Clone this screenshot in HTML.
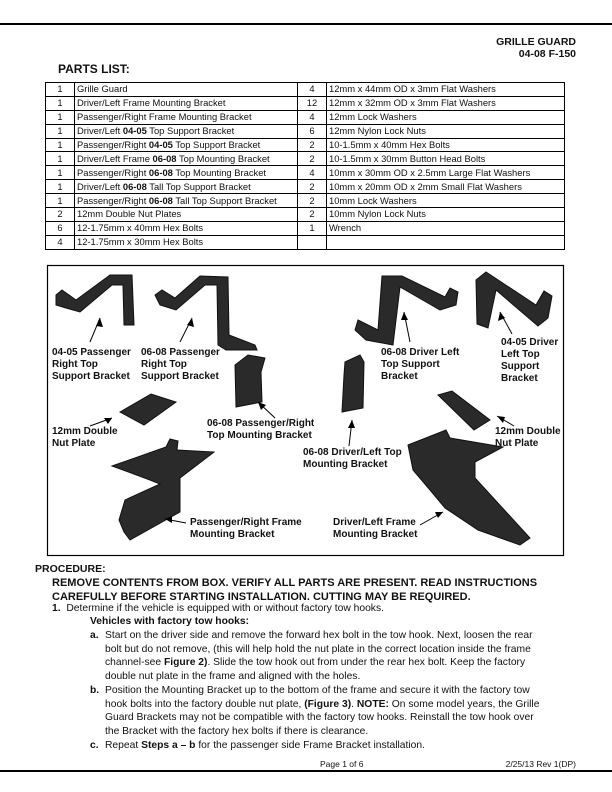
<!DOCTYPE html>
<html><head><meta charset="utf-8"><style>
body{margin:0;width:612px;height:792px;background:#fff;position:relative;font-family:"Liberation Sans",Arial,sans-serif;color:#111;overflow:hidden}
.a{position:absolute;white-space:nowrap}
.b{font-weight:bold}
table{position:absolute;left:45px;top:82px;width:520px;border-collapse:collapse;font-size:9.4px}
td{border:1px solid #000;height:12.9px;padding:0 2px;line-height:12px}
td.q{text-align:center;width:24px}
.lbl{position:absolute;font-weight:bold;font-size:10px;line-height:12px;white-space:nowrap}
.p{font-size:10.3px;line-height:13.6px}
</style></head><body>
<div style="position:absolute;left:0;top:23px;width:612px;height:1.5px;background:#000"></div>
<div class="a b" style="right:36px;top:36px;font-size:10.5px;text-align:right;line-height:12px">GRILLE GUARD<br>04-08 F-150</div>
<div class="a b" style="left:58px;top:62px;font-size:12px">PARTS LIST:</div>
<table>
<tr><td class="q">1</td><td style="width:218px">Grille Guard</td><td class="q">4</td><td>12mm x 44mm OD x 3mm Flat Washers</td></tr>
<tr><td class="q">1</td><td>Driver/Left Frame Mounting Bracket</td><td class="q">12</td><td>12mm x 32mm OD x 3mm Flat Washers</td></tr>
<tr><td class="q">1</td><td>Passenger/Right Frame Mounting Bracket</td><td class="q">4</td><td>12mm Lock Washers</td></tr>
<tr><td class="q">1</td><td>Driver/Left <b>04-05</b> Top Support Bracket</td><td class="q">6</td><td>12mm Nylon Lock Nuts</td></tr>
<tr><td class="q">1</td><td>Passenger/Right <b>04-05</b> Top Support Bracket</td><td class="q">2</td><td>10-1.5mm x 40mm Hex Bolts</td></tr>
<tr><td class="q">1</td><td>Driver/Left Frame <b>06-08</b> Top Mounting Bracket</td><td class="q">2</td><td>10-1.5mm x 30mm Button Head Bolts</td></tr>
<tr><td class="q">1</td><td>Passenger/Right <b>06-08</b> Top Mounting Bracket</td><td class="q">4</td><td>10mm x 30mm OD x 2.5mm Large Flat Washers</td></tr>
<tr><td class="q">1</td><td>Driver/Left <b>06-08</b> Tall Top Support Bracket</td><td class="q">2</td><td>10mm x 20mm OD x 2mm Small Flat Washers</td></tr>
<tr><td class="q">1</td><td>Passenger/Right <b>06-08</b> Tall Top Support Bracket</td><td class="q">2</td><td>10mm Lock Washers</td></tr>
<tr><td class="q">2</td><td>12mm Double Nut Plates</td><td class="q">2</td><td>10mm Nylon Lock Nuts</td></tr>
<tr><td class="q">6</td><td>12-1.75mm x 40mm Hex Bolts</td><td class="q">1</td><td>Wrench</td></tr>
<tr><td class="q">4</td><td>12-1.75mm x 30mm Hex Bolts</td><td class="q"></td><td></td></tr>
</table>

<svg style="position:absolute;left:0;top:0" width="612" height="792">
<rect x="47.5" y="265.5" width="516" height="290" fill="none" stroke="#000" stroke-width="1.2"/>
<g fill="#2a2a2a" stroke="#111" stroke-width="1">
<path d="M56 295 L62 290 L76 300 L110 275 L132 275 L134 325 L124 325 L123 285 L112 285 L80 312 L66 308 L56 305Z"/>
<path d="M155 295 L162 290 L175 298 L200 276 L228 277 L229 335 L255 345 L257 350 L226 350 L218 345 L217 285 L205 285 L176 310 L160 305Z"/>
<path d="M355 330 L358 320 L378 330 L382 276 L402 276 L445 297 L450 288 L458 292 L456 305 L440 310 L400 287 L393 345 L366 340Z"/>
<path d="M476 280 L486 272 L536 305 L544 291 L552 296 L548 318 L538 326 L496 290 L488 328 L477 324Z"/>
<path d="M120 412 L151 394 L176 402 L144 425Z"/>
<path d="M438 395 L452 391 L490 420 L474 430Z"/>
<path d="M235 365 L248 355 L265 358 L261 372 L262 402 L236 407Z"/>
<path d="M345 362 L360 355 L364 362 L363 408 L342 412 L344 375Z"/>
<path d="M112 466 L166 447 L170 439 L178 441 L177 450 L214 452 L180 478 L180 512 L130 540 L124 532 L119 520 L125 500 L160 484 L150 480Z"/>
<path d="M408 445 L446 430 L450 438 L503 447 L475 462 L475 478 L530 538 L520 545 L478 530 L445 508 L430 490 L413 470Z"/>
</g>
<g stroke="#000" stroke-width="1" fill="none">
<line x1="90" y1="342" x2="100" y2="318"/><line x1="180" y1="342" x2="192" y2="318"/>
<line x1="410" y1="342" x2="404" y2="312"/><line x1="512" y1="334" x2="500" y2="312"/>
<line x1="90" y1="426" x2="112" y2="418"/><line x1="275" y1="418" x2="258" y2="402"/>
<line x1="349" y1="446" x2="352" y2="420"/><line x1="514" y1="426" x2="497" y2="416"/>
<line x1="186" y1="523" x2="165" y2="519"/><line x1="420" y1="525" x2="443" y2="512"/>
</g>
<g fill="#000">
<polygon points="112,418 104,418 108,424"/><polygon points="100,318 96,326 103,327"/>
<polygon points="192,318 187,325 194,327"/><polygon points="404,312 401,320 408,320"/>
<polygon points="500,312 498,321 505,318"/><polygon points="258,402 261,410 266,405"/>
<polygon points="352,420 348,428 355,428"/><polygon points="497,416 503,423 505,417"/>
<polygon points="165,519 172,516 172,523"/><polygon points="443,512 435,512 438,518"/>
</g>
</svg>
<div class="lbl" style="left:52px;top:347px">04-05 Passenger<br>Right Top<br>Support Bracket</div>
<div class="lbl" style="left:141px;top:347px">06-08 Passenger<br>Right Top<br>Support Bracket</div>
<div class="lbl" style="left:381px;top:347px">06-08 Driver Left<br>Top Support<br>Bracket</div>
<div class="lbl" style="left:501px;top:337px">04-05 Driver<br>Left Top<br>Support<br>Bracket</div>
<div class="lbl" style="left:52px;top:426px">12mm Double<br>Nut Plate</div>
<div class="lbl" style="left:207px;top:418px">06-08 Passenger/Right<br>Top Mounting Bracket</div>
<div class="lbl" style="left:303px;top:447px">06-08 Driver/Left Top<br>Mounting Bracket</div>
<div class="lbl" style="left:495px;top:426px">12mm Double<br>Nut Plate</div>
<div class="lbl" style="left:190px;top:517px">Passenger/Right Frame<br>Mounting Bracket</div>
<div class="lbl" style="left:333px;top:517px">Driver/Left Frame<br>Mounting Bracket</div>

<div class="a b" style="left:35px;top:563px;font-size:10.5px">PROCEDURE:</div>
<div class="a b" style="left:52px;top:576px;font-size:11px;line-height:14px">REMOVE CONTENTS FROM BOX. VERIFY ALL PARTS ARE PRESENT. READ INSTRUCTIONS<br>CAREFULLY BEFORE STARTING INSTALLATION. CUTTING MAY BE REQUIRED.</div>
<div class="a p" style="left:52px;top:602px"><b>1.</b>&nbsp; Determine if the vehicle is equipped with or without factory tow hooks.</div>
<div class="a p b" style="left:90px;top:615px">Vehicles with factory tow hooks:</div>
<div class="a p b" style="left:90px;top:629px">a.</div>
<div class="a p" style="left:105px;top:629px">Start on the driver side and remove the forward hex bolt in the tow hook. Next, loosen the rear<br>bolt but do not remove, (this will help hold the nut plate in the correct location inside the frame<br>channel-see <b>Figure 2)</b>. Slide the tow hook out from under the rear hex bolt. Keep the factory<br>double nut plate in the frame and aligned with the holes.</div>
<div class="a p b" style="left:90px;top:684px">b.</div>
<div class="a p" style="left:105px;top:684px">Position the Mounting Bracket up to the bottom of the frame and secure it with the factory tow<br>hook bolts into the factory double nut plate, <b>(Figure 3)</b>. <b>NOTE:</b> On some model years, the Grille<br>Guard Brackets may not be compatible with the factory tow hooks. Reinstall the tow hook over<br>the Bracket with the factory hex bolts if there is clearance.</div>
<div class="a p b" style="left:90px;top:739px">c.</div>
<div class="a p" style="left:105px;top:739px">Repeat <b>Steps a – b</b> for the passenger side Frame Bracket installation.</div>
<div class="a" style="left:320px;top:759px;font-size:8.5px">Page 1 of 6</div>
<div class="a" style="right:36px;top:759px;font-size:8.5px">2/25/13 Rev 1(DP)</div>
<div style="position:absolute;left:0;top:770px;width:612px;height:1.5px;background:#000"></div>
</body></html>
